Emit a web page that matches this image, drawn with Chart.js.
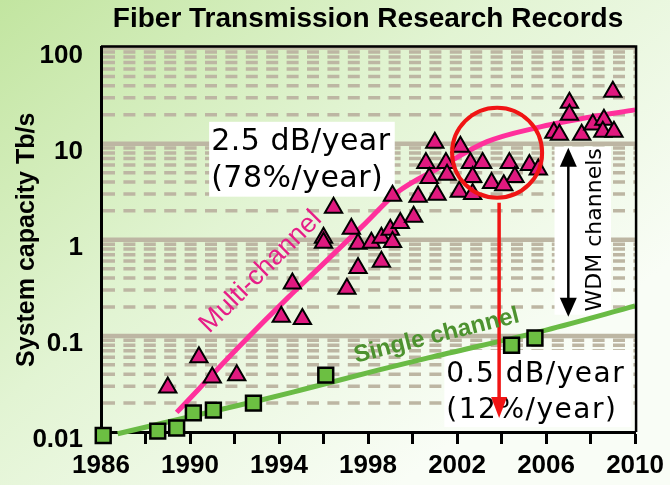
<!DOCTYPE html>
<html>
<head>
<meta charset="utf-8">
<script src="https://cdn.jsdelivr.net/npm/chart.js@4"></script>
<style>
  html, body { margin: 0; padding: 0; }
  #wrap { width: 670px; height: 485px; }
</style>
</head>
<body>
<div id="wrap"><canvas id="chart" width="670" height="485"></canvas></div>
<script>
// Multi-channel (WDM) records
const multiYears = [1989.0, 1990.4, 1991.0, 1992.1, 1994.1, 1995.05, 1994.6, 1997.05, 1997.55, 1998.6,
    1996.45, 1996.0, 1996.0, 1997.25, 1997.55, 1998.15, 1998.6, 1999.0, 1999.45, 2000.05,
    1999.1, 1999.1, 2000.25, 2001.1, 2001.0, 2000.6, 2000.75, 2001.5, 2001.55, 2002.1,
    2002.15, 2002.6, 2003.15, 2002.7, 2004.35, 2005.25, 2005.65, 2004.6, 2003.55, 2004.1,
    2002.7, 2007.05, 2007.05, 2009.0, 2006.35, 2006.6, 2007.6, 2008.1, 2008.6, 2008.55, 2009.05];
const multiCapacity = [0.029, 0.060, 0.037, 0.039, 0.158, 0.150, 0.35, 0.31, 0.51, 0.59,
    2.15, 1.05, 0.93, 1.30, 0.91, 0.93, 1.05, 1.27, 1.50, 1.74,
    0.95, 2.87, 2.81, 2.94, 10.2, 6.3, 4.4, 6.3, 4.75, 3.16,
    9.3, 6.3, 6.3, 4.5, 6.3, 6.0, 5.4, 4.5, 3.9, 3.7,
    3.0, 26.7, 20.0, 34.8, 13.0, 12.4, 12.4, 15.8, 17.8, 13.3, 13.3];

// Single-channel records
const singleYears = [1986.1, 1988.55, 1989.4, 1990.15, 1991.05, 1992.85, 1996.1, 2004.45, 2005.5];
const singleCapacity = [0.0092, 0.0102, 0.011, 0.0158, 0.0169, 0.020, 0.039, 0.080, 0.095];

// trend curves
const multiTrendYears = [1989.4, 1992.2, 1994.4, 1995.8, 1997.9, 1999.3, 2001.25, 2003.35, 2005.6, 2007.8, 2010];
const multiTrendCapacity = [0.016, 0.077, 0.25, 0.51, 1.5, 3.1, 5.7, 10.5, 14.7, 18.6, 22.5];
const singleTrendYears = [1986.75, 1989.75, 1993.2, 1994.9, 1998.45, 2000.7, 2006.0, 2010];
const singleTrendCapacity = [0.0096, 0.014, 0.0215, 0.027, 0.044, 0.059, 0.115, 0.205];

// axes
const xTickYears = [1986, 1988, 1990, 1992, 1994, 1996, 1998, 2000, 2002, 2004, 2006, 2008, 2010];
const xTickLabels = ['1986', '', '1990', '', '1994', '', '1998', '', '2002', '', '2006', '', '2010'];
const yTickValues = [0.01, 0.1, 1, 10, 100];
const yTickLabels = ['0.01', '0.1', '1', '10', '100'];

const toPoints = (xs, ys) => xs.map((x, i) => ({ x: x, y: ys[i] }));

function arrowHead(ctx, x, tipY, dir, len, half) {
    ctx.beginPath();
    ctx.moveTo(x, tipY);
    ctx.lineTo(x - half, tipY - dir * len);
    ctx.lineTo(x + half, tipY - dir * len);
    ctx.closePath();
    ctx.fill();
}

function noteBox(chart, from, to, lines, font, spacing, baselines) {
    const { ctx, scales: { x, y } } = chart;
    const x0 = x.getPixelForValue(from[0]), y0 = y.getPixelForValue(from[1]);
    const x1 = x.getPixelForValue(to[0]), y1 = y.getPixelForValue(to[1]);
    ctx.save();
    ctx.fillStyle = '#fff';
    ctx.fillRect(x0, y0, x1 - x0, y1 - y0);
    ctx.beginPath();
    ctx.rect(x0, y0, x1 - x0, y1 - y0);
    ctx.clip();
    ctx.fillStyle = '#000';
    ctx.font = font;
    ctx.letterSpacing = spacing;
    ctx.textAlign = 'left';
    ctx.textBaseline = 'alphabetic';
    lines.forEach((t, i) => ctx.fillText(t, x0 + 2, y0 + baselines[i]));
    ctx.restore();
}

function rotatedText(chart, at, text, font, color, angle) {
    const { ctx, scales: { x, y } } = chart;
    ctx.save();
    ctx.translate(x.getPixelForValue(at[0]), y.getPixelForValue(at[1]));
    ctx.rotate(angle * Math.PI / 180);
    ctx.font = font;
    ctx.fillStyle = color;
    ctx.textAlign = 'center';
    ctx.textBaseline = 'middle';
    ctx.fillText(text, 0, 0);
    ctx.restore();
}

const decorations = {
    id: 'decorations',
    beforeDraw(chart) {
        const { ctx, chartArea: a, scales: { y } } = chart;
        ctx.save();
        const g = ctx.createLinearGradient(0, 0, 400, chart.height);
        g.addColorStop(0, '#c2e5a0');
        g.addColorStop(0.5, '#e2f4d3');
        g.addColorStop(1, '#f9fdf6');
        ctx.fillStyle = g;
        ctx.fillRect(0, 0, chart.width, chart.height);

        // log grid bands
        ctx.strokeStyle = '#bdb6a3';
        for (let d = 0; d < yTickValues.length - 1; d++) {
            for (let k = 2; k <= 9; k++) {
                const py = y.getPixelForValue(yTickValues[d] * k);
                ctx.lineWidth = 3.5;
                ctx.setLineDash([12, 8.4]);
                ctx.beginPath();
                ctx.moveTo(a.left + 2, py);
                ctx.lineTo(a.right, py);
                ctx.stroke();
            }
        }
        ctx.setLineDash([]);
        ctx.lineWidth = 4.5;
        yTickValues.slice(1).forEach(v => {
            const py = y.getPixelForValue(v);
            ctx.beginPath();
            ctx.moveTo(a.left, py);
            ctx.lineTo(a.right, py);
            ctx.stroke();
        });
        ctx.restore();
    },
    beforeDatasetsDraw(chart) {
        noteBox(chart, [1990.86, 16.9], [1999.2, 2.81], ['2.5 dB/year', '(78%/year)'],
            '30px "DejaVu Sans"', '0.5px', [28, 65]);
        noteBox(chart, [2001.43, 0.0715], [2009.83, 0.01127], ['0.5 dB/year', '(12%/year)'],
            '28px "DejaVu Sans"', '1.5px', [32, 68]);
        noteBox(chart, [2006.38, 9.31], [2008.92, 0.166], [], '10px sans-serif', '0px', []);
    },
    afterDatasetsDraw(chart) {
        const { ctx, chartArea: a, scales: { x, y } } = chart;
        ctx.save();

        // red circle and arrow
        ctx.strokeStyle = '#f01414';
        ctx.fillStyle = '#f01414';
        ctx.lineWidth = 4;
        ctx.beginPath();
        ctx.arc(x.getPixelForValue(2003.8), y.getPixelForValue(8.06), 45, 0, Math.PI * 2);
        ctx.stroke();
        const rx = x.getPixelForValue(2003.89);
        const rTip = y.getPixelForValue(0.014);
        ctx.lineWidth = 3.5;
        ctx.beginPath();
        ctx.moveTo(rx, y.getPixelForValue(2.43));
        ctx.lineTo(rx, rTip - 15);
        ctx.stroke();
        arrowHead(ctx, rx, rTip, 1, 21, 8);

        // WDM double arrow
        ctx.strokeStyle = '#000';
        ctx.fillStyle = '#000';
        const wx = x.getPixelForValue(2007.0);
        const wTop = y.getPixelForValue(9.08), wBot = y.getPixelForValue(0.158);
        ctx.lineWidth = 2.5;
        ctx.beginPath();
        ctx.moveTo(wx, wTop + 10);
        ctx.lineTo(wx, wBot - 10);
        ctx.stroke();
        arrowHead(ctx, wx, wTop, -1, 19, 8.5);
        arrowHead(ctx, wx, wBot, 1, 19, 8.5);
        ctx.restore();

        rotatedText(chart, [2008.21, 1.27], 'WDM channels', '22px "DejaVu Sans"', '#000', -90);
        rotatedText(chart, [1993.18, 0.464], 'Multi-channel', '27px "Liberation Sans"', '#e61e87', -45);
        rotatedText(chart, [2001.08, 0.1], 'Single channel', 'bold 24px "Liberation Sans"', '#4d922f', -14);

        // top and right frame
        ctx.save();
        ctx.strokeStyle = '#000';
        ctx.lineWidth = 2.5;
        ctx.beginPath();
        ctx.moveTo(a.left, a.top - 1);
        ctx.lineTo(a.right + 1, a.top - 1);
        ctx.lineTo(a.right + 1, a.bottom);
        ctx.stroke();
        ctx.restore();
    }
};

Chart.defaults.font.family = '"Liberation Sans", Arial, sans-serif';
Chart.defaults.color = '#000';

new Chart(document.getElementById('chart').getContext('2d'), {
    type: 'scatter',
    data: {
        datasets: [{
            type: 'line',
            data: toPoints(multiTrendYears, multiTrendCapacity),
            borderColor: '#ff309c',
            borderWidth: 5,
            pointRadius: 0,
            cubicInterpolationMode: 'monotone',
            fill: false,
            clip: false,
            order: 4
        }, {
            type: 'line',
            data: toPoints(singleTrendYears, singleTrendCapacity),
            borderColor: '#6abb45',
            borderWidth: 5,
            pointRadius: 0,
            cubicInterpolationMode: 'monotone',
            fill: false,
            clip: false,
            order: 3
        }, {
            data: toPoints(multiYears, multiCapacity),
            pointStyle: 'triangle',
            pointRadius: 10,
            pointBackgroundColor: '#e0197f',
            pointBorderColor: '#000',
            pointBorderWidth: 2,
            clip: false,
            order: 2
        }, {
            data: toPoints(singleYears, singleCapacity),
            pointStyle: 'rect',
            pointRadius: 10.5,
            pointBackgroundColor: '#6cbf42',
            pointBorderColor: '#000',
            pointBorderWidth: 2.5,
            clip: false,
            order: 1
        }]
    },
    options: {
        responsive: false,
        animation: false,
        events: [],
        layout: {
            padding: { left: 0, right: 30, top: 0, bottom: 0 }
        },
        plugins: {
            legend: { display: false },
            tooltip: { enabled: false },
            title: {
                display: true,
                fullSize: false,
                text: 'Fiber Transmission Research Records',
                font: { size: 28, weight: 'bold' },
                color: '#000',
                padding: { top: 2, bottom: 12 }
            }
        },
        scales: {
            x: {
                type: 'linear',
                min: 1986,
                max: 2010,
                afterFit: s => { s.height = 53; },
                afterBuildTicks: s => { s.ticks = xTickYears.map(v => ({ value: v })); },
                ticks: {
                    autoSkip: false,
                    maxRotation: 0,
                    padding: 6,
                    font: { size: 26, weight: 'bold' },
                    callback: (v, i) => xTickLabels[i]
                },
                grid: {
                    drawOnChartArea: false,
                    drawTicks: true,
                    tickLength: 12,
                    tickWidth: 3,
                    tickColor: '#000'
                },
                border: { display: true, color: '#000', width: 3 }
            },
            y: {
                type: 'logarithmic',
                min: 0.01,
                max: 100,
                afterFit: s => { s.width = 101; },
                afterBuildTicks: s => { s.ticks = yTickValues.map(v => ({ value: v })); },
                ticks: {
                    padding: 10,
                    labelOffset: 8,
                    font: { size: 26, weight: 'bold' },
                    callback: (v, i) => yTickLabels[i]
                },
                grid: { display: false },
                border: { display: true, color: '#000', width: 3 },
                title: {
                    display: true,
                    text: 'System capacity Tb/s',
                    font: { size: 25, weight: 'bold' },
                    color: '#000',
                    padding: { top: 12, bottom: 0 }
                }
            }
        }
    },
    plugins: [decorations]
});
</script>
</body>
</html>
